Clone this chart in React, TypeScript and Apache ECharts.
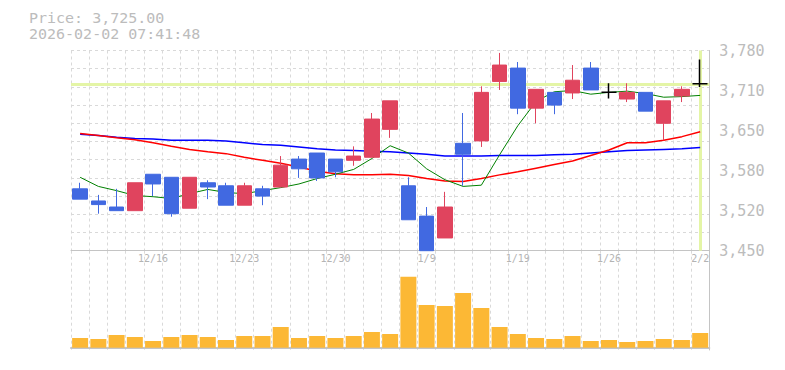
import React, { useEffect, useRef } from "react";
import * as echarts from "echarts";

// ---- data ----
const dates = [
  "12/10", "12/11", "12/12", "12/15", "12/16", "12/17", "12/18", "12/19", "12/22", "12/23",
  "12/24", "12/25", "12/26", "12/29", "12/30", "1/5", "1/6", "1/7", "1/8", "1/9",
  "1/13", "1/14", "1/15", "1/16", "1/19", "1/20", "1/21", "1/22", "1/23", "1/26",
  "1/27", "1/28", "1/29", "1/30", "2/2",
];
const xTickLabels = ["12/16", "12/23", "12/30", "1/9", "1/19", "1/26", "2/2"];

const opens = [
  3552, 3532, 3522, 3516, 3576, 3571, 3520, 3562, 3557, 3525,
  3552, 3555, 3601, 3611, 3601, 3599, 3604, 3650, 3557, 3507,
  3471, 3627, 3631, 3729, 3751, 3685, 3711, 3710, 3751, 3711,
  3700, 3711, 3660, 3705, 3725,
];
const closes = [
  3535, 3526, 3516, 3562, 3560, 3511, 3571, 3555, 3525, 3557,
  3540, 3591, 3585, 3570, 3580, 3606, 3667, 3697, 3501, 3450,
  3522, 3609, 3711, 3756, 3685, 3716, 3690, 3731, 3715, 3711,
  3711, 3680, 3697, 3716, 3725,
];
const lows = [
  3535, 3511, 3516, 3516, 3540, 3506, 3520, 3535, 3525, 3525,
  3525, 3555, 3570, 3565, 3571, 3590, 3604, 3636, 3501, 3450,
  3471, 3557, 3621, 3715, 3675, 3660, 3675, 3700, 3715, 3701,
  3695, 3680, 3632, 3695, 3720,
];
const highs = [
  3562, 3542, 3552, 3562, 3576, 3571, 3571, 3566, 3562, 3562,
  3557, 3606, 3606, 3611, 3601, 3622, 3677, 3697, 3571, 3522,
  3547, 3677, 3721, 3776, 3761, 3716, 3711, 3756, 3761, 3726,
  3726, 3711, 3697, 3721, 3765,
];
// volume, thousand shares
const volumes = [
  97, 87, 127, 107, 67, 107, 127, 107, 77, 117,
  117, 207, 97, 117, 97, 117, 157, 137, 710, 427,
  417, 547, 397, 207, 137, 97, 87, 117, 67, 77,
  57, 67, 87, 77, 147,
];
const maShort = [
  3571, 3556, 3549, 3541, 3539, 3536, 3544, 3551, 3546, 3544,
  3549, 3554, 3560, 3569, 3576, 3584, 3602, 3623, 3611, 3585,
  3567, 3556, 3558, 3608, 3656, 3696, 3712, 3714, 3708, 3711,
  3713, 3709, 3703, 3704, 3706,
];
const maMid = [
  3643, 3640, 3636, 3633, 3628, 3622, 3617, 3613, 3610, 3604,
  3599, 3594, 3588, 3581, 3577, 3575, 3575, 3576, 3574, 3569,
  3565, 3564, 3569, 3575, 3580, 3586, 3592, 3598, 3607, 3616,
  3628, 3628, 3632, 3638, 3646,
];
const maLong = [
  3642, 3640, 3637, 3635, 3634, 3632, 3632, 3632, 3631, 3628,
  3625, 3624, 3621, 3618, 3616, 3615, 3614, 3613, 3611, 3609,
  3606, 3606, 3606, 3607, 3607, 3607, 3608, 3609, 3611, 3613,
  3615, 3616, 3617, 3618, 3620,
];
const yTickLabels = ["3,450", "3,520", "3,580", "3,650", "3,710", "3,780"];
const priceMin = 3450;
const priceMax = 3780;
const priceGridStep = 30;
const currentPrice = 3725;
const currentDate = "2/2";
const titleLines = ["Price: 3,725.00", "2026-02-02 07:41:48"];

// ---- styles ----
const mono = "'DejaVu Sans Mono', 'Liberation Mono', monospace";
const upColor = "#E0445E";
const downColor = "#4169E1";
const dojiColor = "#000000";
const gridLine = { color: "#d9d9d9", type: [3, 3] as any, width: 1 };
const axisGray = "#c4c4c4";
const highlight = "#e4f5a6";
const titleFontSize = 13.6;
const titleStretch = 15 / titleFontSize;

function buildOption(): any {
  const candles = dates.map((_, i) => {
    const v = [opens[i], closes[i], lows[i], highs[i]];
    if (opens[i] === closes[i]) {
      return {
        value: v,
        itemStyle: {
          color: dojiColor,
          color0: dojiColor,
          borderColor: dojiColor,
          borderColor0: dojiColor,
          borderColorDoji: dojiColor,
          borderWidth: 1.5,
        },
      };
    }
    return v;
  });

  const titleText = (text: string, y: number) => ({
    type: "text",
    x: 29,
    y,
    scaleX: titleStretch,
    scaleY: 1,
    style: {
      text,
      font: `${titleFontSize}px ${mono}`,
      fill: "#bcbcbc",
      align: "left",
      verticalAlign: "middle",
    },
  });

  return {
    animation: false,
    backgroundColor: "#ffffff",
    graphic: [titleText(titleLines[0], 17.8), titleText(titleLines[1], 33.8)],
    grid: [
      { left: 71, right: 75.7, top: 50.5, height: 200.2 },
      { left: 71, right: 75.7, top: 250.7, height: 99.3 },
    ],
    xAxis: [
      {
        type: "category",
        gridIndex: 0,
        data: dates,
        boundaryGap: true,
        axisLine: { show: true, lineStyle: { color: axisGray, width: 1 } },
        axisTick: { show: false },
        axisLabel: {
          interval: (_i: number, v: string) => xTickLabels.includes(v),
          color: "#b4b4b4",
          fontFamily: mono,
          fontSize: 10,
          margin: 3,
        },
        splitLine: { show: true, interval: 0, lineStyle: gridLine },
      },
      {
        type: "category",
        gridIndex: 1,
        data: dates,
        boundaryGap: true,
        axisLine: { show: true, lineStyle: { color: axisGray, width: 2 } },
        axisTick: { show: false },
        axisLabel: { show: false },
        splitLine: { show: true, interval: 0, lineStyle: gridLine },
      },
    ],
    yAxis: [
      {
        type: "value",
        gridIndex: 0,
        position: "left",
        min: priceMin,
        max: priceMax,
        interval: priceGridStep,
        axisLine: { show: false },
        axisTick: { show: false },
        axisLabel: { show: false },
        splitLine: { show: true, lineStyle: gridLine },
      },
      {
        type: "value",
        gridIndex: 0,
        position: "right",
        min: 0,
        max: yTickLabels.length - 1,
        interval: 1,
        axisLine: { show: true, lineStyle: { color: axisGray, width: 1 } },
        axisTick: { show: false },
        axisLabel: {
          formatter: (v: number) => yTickLabels[Math.round(v)] ?? "",
          color: "#bcbcbc",
          fontFamily: mono,
          fontSize: 15,
          margin: 10,
          lineHeight: 15,
          padding: [5, 0, 0, 0],
        },
        splitLine: { show: false },
      },
      {
        type: "value",
        gridIndex: 1,
        position: "right",
        min: -23,
        max: 970,
        axisLine: { show: true, lineStyle: { color: axisGray, width: 1 } },
        axisTick: { show: false },
        axisLabel: { show: false },
        splitLine: { show: false },
      },
    ],
    series: [
      {
        name: "current",
        type: "line",
        xAxisIndex: 0,
        yAxisIndex: 0,
        data: [],
        z: 1,
        silent: true,
        markLine: {
          z: 1,
          silent: true,
          symbol: ["none", "none"],
          label: { show: false },
          lineStyle: { color: highlight, type: "solid", width: 3 },
          data: [{ yAxis: currentPrice }, { xAxis: currentDate }],
        },
      },
      {
        name: "MA long",
        type: "line",
        xAxisIndex: 0,
        yAxisIndex: 0,
        data: maLong,
        symbol: "none",
        z: 3,
        lineStyle: { color: "#0000ff", width: 1.5 },
      },
      {
        name: "MA mid",
        type: "line",
        xAxisIndex: 0,
        yAxisIndex: 0,
        data: maMid,
        symbol: "none",
        z: 3,
        lineStyle: { color: "#ff0000", width: 1.5 },
      },
      {
        name: "MA short",
        type: "line",
        xAxisIndex: 0,
        yAxisIndex: 0,
        data: maShort,
        symbol: "none",
        z: 3,
        lineStyle: { color: "#008000", width: 1 },
      },
      {
        name: "Price",
        type: "candlestick",
        xAxisIndex: 0,
        yAxisIndex: 0,
        data: candles,
        barWidth: 15,
        z: 5,
        itemStyle: {
          color: upColor,
          color0: downColor,
          borderColor: upColor,
          borderColor0: downColor,
          borderColorDoji: dojiColor,
          borderWidth: 1,
        },
      },
      {
        name: "Volume",
        type: "bar",
        xAxisIndex: 1,
        yAxisIndex: 2,
        data: volumes,
        barWidth: 16,
        itemStyle: { color: "#FCB835" },
      },
    ],
  };
}

export default function App() {
  const ref = useRef<HTMLDivElement>(null);
  useEffect(() => {
    if (!ref.current) return;
    const chart = echarts.init(ref.current, null, { renderer: "svg" });
    chart.setOption(buildOption());
    return () => chart.dispose();
  }, []);
  return (
    <div
      ref={ref}
      style={{ position: "fixed", left: 0, top: 0, width: 785, height: 370, background: "#fff" }}
    />
  );
}
